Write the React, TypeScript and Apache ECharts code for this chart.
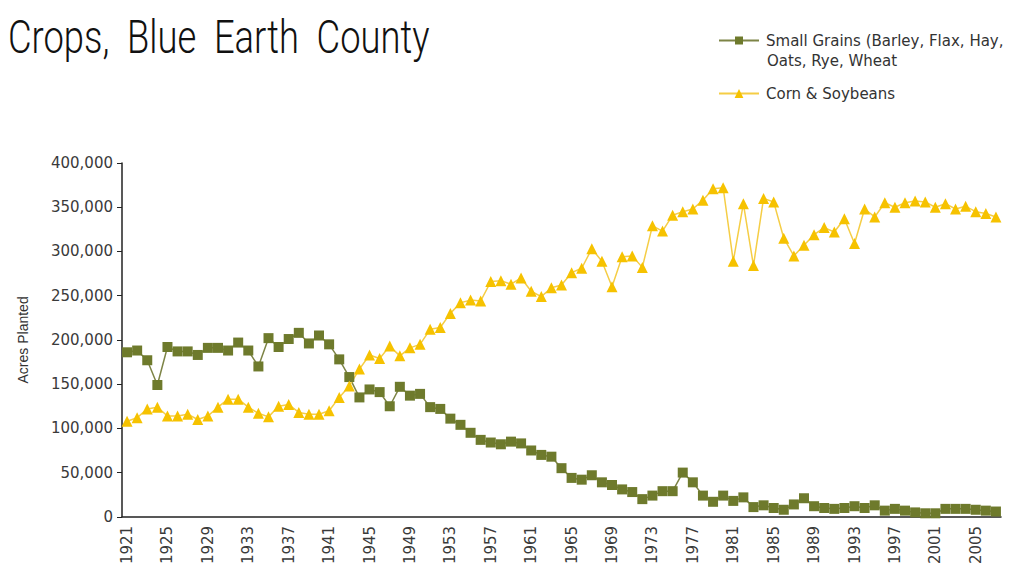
import React, { useEffect, useRef } from "react";
import * as echarts from "echarts";

const years: string[] = [];
for (let y = 1921; y <= 2007; y++) years.push(String(y));

const smallGrainsName = "Small Grains (Barley, Flax, Hay, Oats, Rye, Wheat";
const cornName = "Corn & Soybeans";

const smallGrains: number[] = [
  186000, 188000, 177000, 149000, 192000, 187000, 187000, 183000, 191000, 191000,
  188000, 197000, 188000, 170000, 202000, 192000, 201000, 208000, 196000, 205000,
  195000, 178000, 158000, 135000, 144000, 141000, 125000, 147000, 137000, 139000,
  124000, 122000, 111000, 104000, 95000, 87000, 84000, 82000, 85000, 83000,
  75000, 70000, 68000, 55000, 44000, 42000, 47000, 39000, 36000, 31000,
  28000, 20000, 24000, 29000, 29000, 50000, 39000, 24000, 17000, 24000,
  18000, 22000, 11000, 13000, 10000, 8000, 14000, 21000, 12000, 10000,
  9000, 10000, 12000, 10000, 13000, 7000, 9000, 7000, 5000, 4000,
  4000, 9000, 9000, 9000, 8000, 7000, 6000,
];

const cornSoybeans: number[] = [
  108000, 112000, 122000, 124000, 114000, 114000, 116000, 110000, 114000, 124000,
  133000, 133000, 124000, 117000, 113000, 125000, 127000, 118000, 116000, 116000,
  120000, 135000, 148000, 167000, 183000, 179000, 193000, 182000, 191000, 195000,
  212000, 214000, 230000, 242000, 245000, 244000, 266000, 267000, 263000, 270000,
  255000, 249000, 259000, 262000, 276000, 281000, 303000, 289000, 260000, 294000,
  295000, 282000, 329000, 323000, 341000, 345000, 348000, 358000, 371000, 372000,
  289000, 354000, 284000, 360000, 356000, 315000, 295000, 307000, 319000, 327000,
  322000, 337000, 309000, 348000, 339000, 355000, 350000, 355000, 357000, 356000,
  350000, 354000, 348000, 351000, 345000, 343000, 339000,
];

const OLIVE = "#6e7a2c";
const OLIVE_LINE = "#7d8446";
const GOLD = "#f6c200";
const GOLD_LINE = "#f5cd45";
const TEXT = "#333333";
const FONT = "DejaVu Sans";

export default function App() {
  const ref = useRef<HTMLDivElement>(null);
  useEffect(() => {
    if (!ref.current) return;
    const chart = echarts.init(ref.current, undefined, { renderer: "svg" });
    chart.setOption({
      animation: false,
      backgroundColor: "#ffffff",
      legend: [
        {
          data: [smallGrainsName],
          left: 718,
          top: 33,
          padding: 0,
          itemWidth: 40,
          itemHeight: 10,
          formatter: () => "Small Grains (Barley, Flax, Hay,",
          textStyle: {
            fontFamily: FONT,
            fontSize: 15,
            color: TEXT,
            padding: [0, 0, 0, 2],
          },
        },
        {
          data: [cornName],
          left: 718,
          top: 86,
          padding: 0,
          itemWidth: 40,
          itemHeight: 11,
          textStyle: {
            fontFamily: FONT,
            fontSize: 15,
            color: TEXT,
            padding: [0, 0, 0, 2],
          },
        },
      ],
      graphic: [
        {
          type: "text",
          left: 8,
          top: 14,
          scaleX: 0.79,
          style: {
            text: "Crops,  Blue  Earth  County",
            fontFamily: "Roboto",
            fontSize: 46,
            fontWeight: 300,
            fill: "#111111",
          },
        },
        {
          type: "text",
          left: 767,
          top: 53,
          style: {
            text: "Oats, Rye, Wheat",
            fontFamily: FONT,
            fontSize: 15,
            fill: TEXT,
          },
        },
      ],
      grid: { left: 122, right: 18, top: 163, bottom: 48, containLabel: false },
      xAxis: {
        type: "category",
        data: years,
        boundaryGap: true,
        axisLine: { lineStyle: { color: "#222222", width: 1.5 } },
        axisTick: { interval: 0, length: 5, lineStyle: { color: "#222222" } },
        axisLabel: {
          interval: 3,
          rotate: 90,
          margin: 9,
          fontFamily: FONT,
          fontSize: 15,
          color: "#3a3a3a",
        },
      },
      yAxis: {
        type: "value",
        min: 0,
        max: 400000,
        interval: 50000,
        name: "Acres Planted",
        nameLocation: "middle",
        nameRotate: 90,
        nameGap: 92,
        nameTextStyle: {
          fontFamily: "Liberation Sans",
          fontSize: 14,
          color: TEXT,
        },
        axisLine: { show: true, lineStyle: { color: "#222222", width: 1.5 } },
        axisTick: { show: true, length: 5, lineStyle: { color: "#222222" } },
        splitLine: { show: false },
        axisLabel: {
          margin: 9,
          fontFamily: FONT,
          fontSize: 15,
          color: "#3a3a3a",
          formatter: (v: number) => v.toLocaleString("en-US"),
        },
      },
      series: [
        {
          name: smallGrainsName,
          type: "line",
          data: smallGrains,
          symbol: "rect",
          symbolSize: 10,
          showAllSymbol: true,
          itemStyle: { color: OLIVE },
          lineStyle: { color: OLIVE_LINE, width: 1.5 },
        },
        {
          name: cornName,
          type: "line",
          data: cornSoybeans,
          symbol: "triangle",
          symbolSize: 11,
          showAllSymbol: true,
          itemStyle: { color: GOLD },
          lineStyle: { color: GOLD_LINE, width: 1.5 },
        },
      ],
    });
    return () => chart.dispose();
  }, []);
  return (
    <div
      ref={ref}
      style={{ position: "fixed", left: 0, top: 0, width: 1019, height: 567, background: "#fff" }}
    />
  );
}
